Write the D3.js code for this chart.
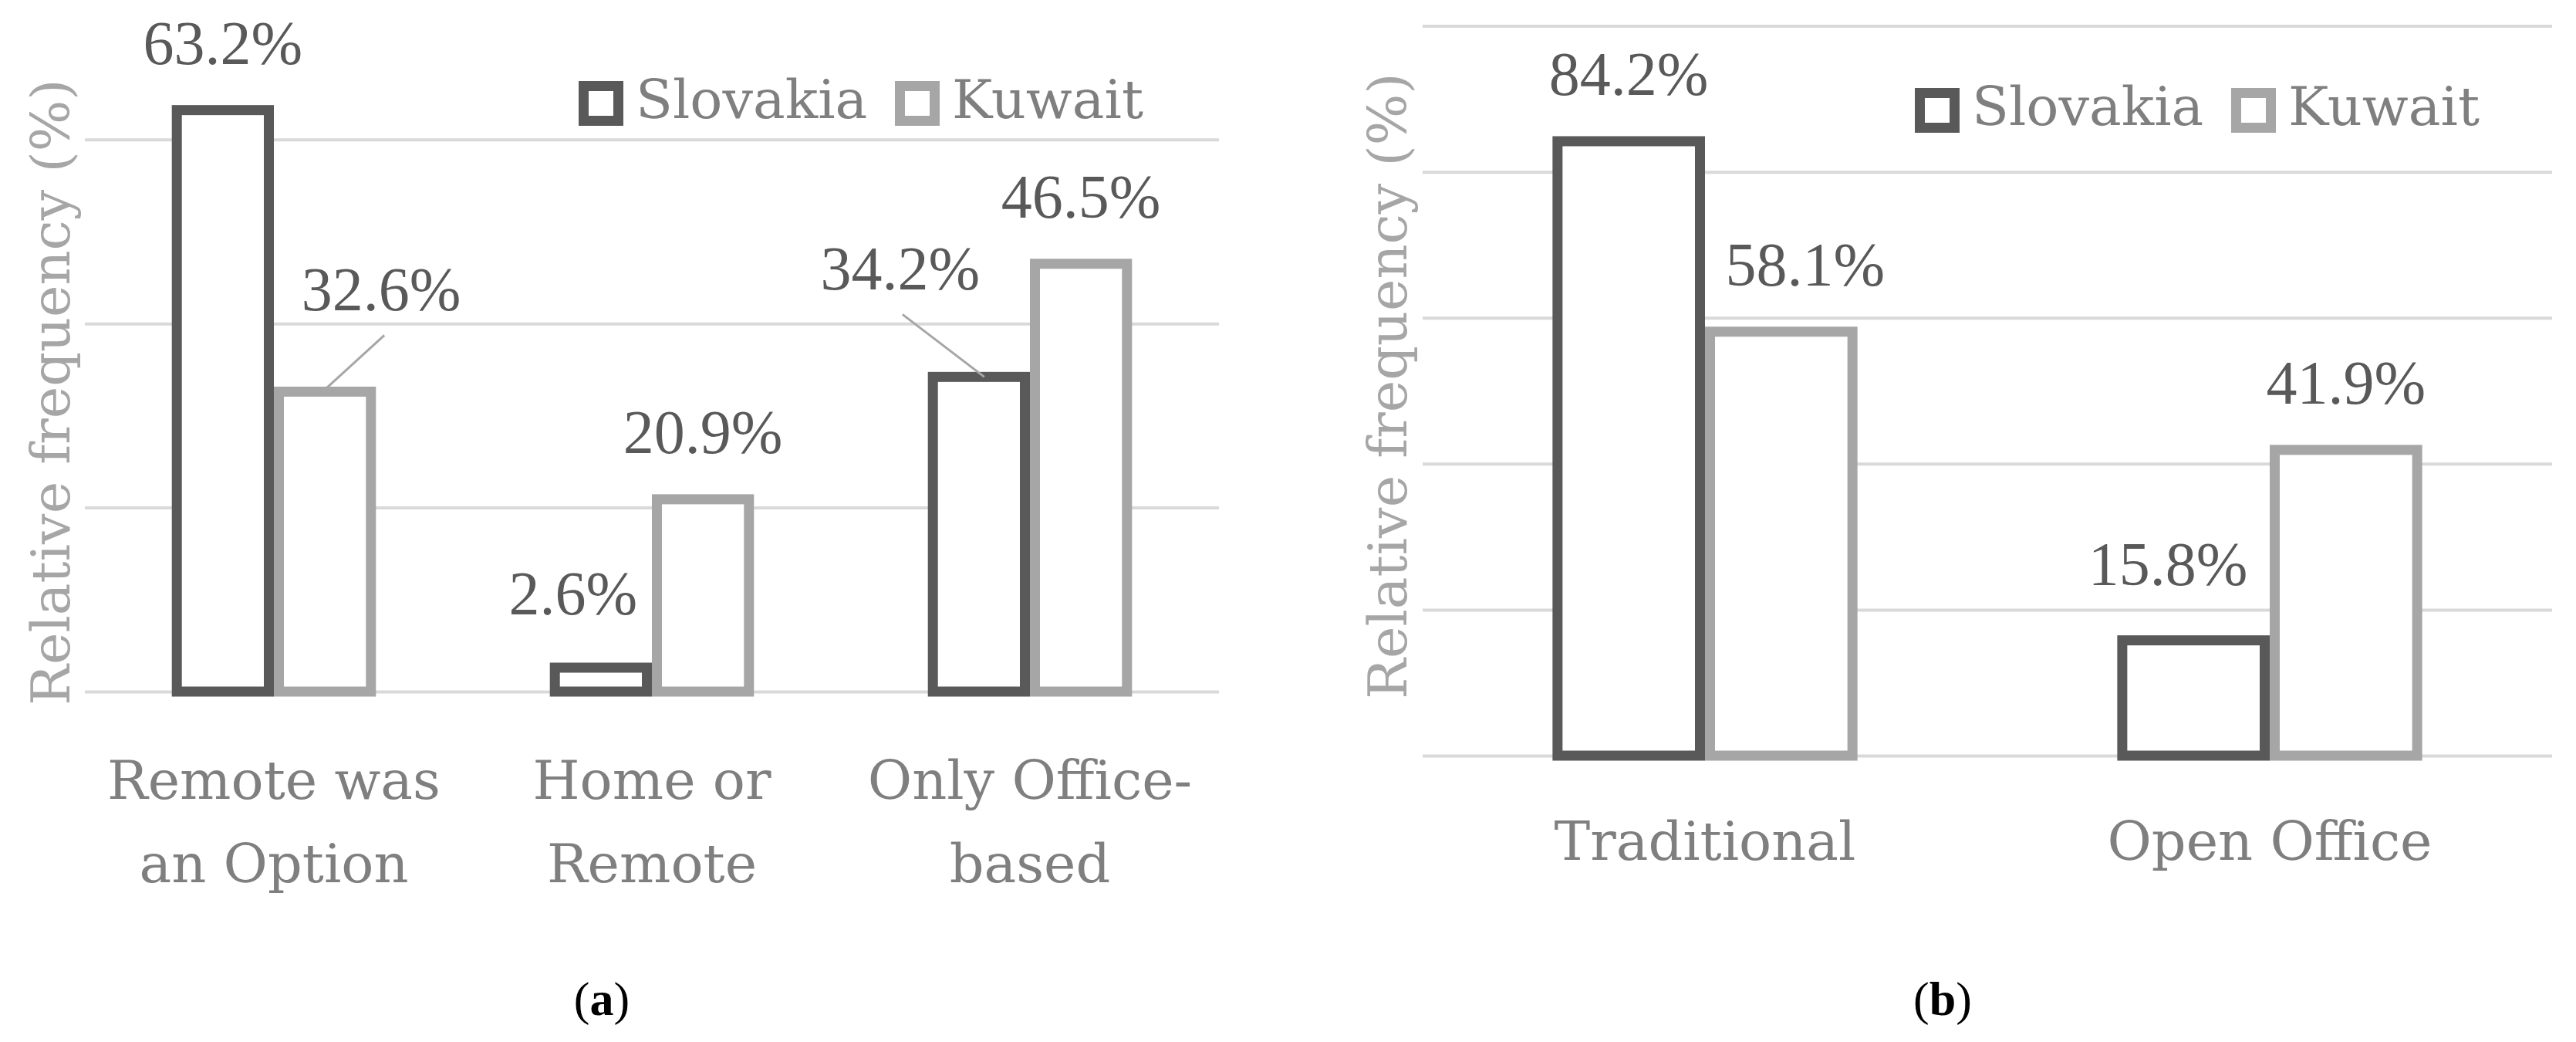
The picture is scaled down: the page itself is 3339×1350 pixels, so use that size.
<!DOCTYPE html>
<html>
<head>
<meta charset="utf-8">
<script src="https://cdn.jsdelivr.net/npm/d3@7"></script>
<style>
  html, body { margin: 0; padding: 0; background: #fff; }
  svg { display: block; }
</style>
</head>
<body>
<svg id="chart" width="3339" height="1350"></svg>
<script>
// ---------- data ----------
const seriesNames = ["Slovakia", "Kuwait"];
const categoriesA = [["Remote was", "an Option"], ["Home or", "Remote"], ["Only Office-", "based"]];
const slovakiaA = [63.2, 2.6, 34.2];
const kuwaitA = [32.6, 20.9, 46.5];
const gridTicksA = [0, 20, 40, 60];

const categoriesB = [["Traditional"], ["Open Office"]];
const slovakiaB = [84.2, 15.8];
const kuwaitB = [58.1, 41.9];
const gridTicksB = [0, 20, 40, 60, 80, 100];

const yTitle = "Relative frequency (%)";
const panelCaptions = ["a", "b"];

// ---------- styling / layout ----------
const seriesColors = ["#595959", "#a6a6a6"];
const strokeW = 13;
const gridColor = "#d9d9d9";
const catFont = "'DejaVu Serif', serif";
const lblFont = "'Liberation Serif', 'Times New Roman', serif";

const svg = d3.select("#chart");

function drawPanel(cfg) {
  const g = svg.append("g");
  const x0 = d3.scaleBand().domain(cfg.cats.map((d, i) => i))
    .range([cfg.left, cfg.right]).paddingInner(0.46).paddingOuter(0.23);
  const x1 = d3.scaleBand().domain(seriesNames).range([0, x0.bandwidth()]);
  const y = d3.scaleLinear().domain([0, cfg.yMax]).range([cfg.zeroY, cfg.zeroY - cfg.yMax * cfg.pxPerUnit]);

  // gridlines via axis
  const grid = g.append("g").attr("transform", `translate(${cfg.left},0)`)
    .call(d3.axisLeft(y).tickValues(cfg.ticks).tickSize(-(cfg.right - cfg.left)).tickFormat(""));
  grid.select(".domain").remove();
  grid.selectAll(".tick line").attr("stroke", gridColor).attr("stroke-width", 4);

  // bars
  const rows = cfg.cats.map((c, i) => ({ i, vals: [cfg.s1[i], cfg.s2[i]] }));
  const grp = g.selectAll("g.grp").data(rows).join("g")
    .attr("transform", d => `translate(${x0(d.i)},0)`);
  grp.selectAll("rect").data(d => d.vals.map((v, k) => ({ v, k, s: seriesNames[k] }))).join("rect")
    .attr("x", d => x1(d.s) + strokeW / 2)
    .attr("width", x1.bandwidth() - strokeW)
    .attr("y", d => y(d.v))
    .attr("height", d => y(0) - y(d.v))
    .attr("fill", "#fff")
    .attr("stroke", d => seriesColors[d.k])
    .attr("stroke-width", strokeW);

  // data labels
  rows.forEach(r => {
    r.vals.forEach((v, k) => {
      const cx = x0(r.i) + x1(seriesNames[k]) + x1.bandwidth() / 2;
      const nudge = (cfg.nudges.find(n => n.i === r.i && n.k === k)) || { dx: 0, dy: 0 };
      const lx = cx + nudge.dx;
      const ly = y(v) - 60 + nudge.dy;
      if (nudge.leader) {
        g.append("line")
          .attr("x1", lx + nudge.leader[0]).attr("y1", ly + 32)
          .attr("x2", cx + nudge.leader[1]).attr("y2", y(v))
          .attr("stroke", "#a6a6a6").attr("stroke-width", 3);
      }
      g.append("text")
        .attr("x", lx).attr("y", ly)
        .attr("text-anchor", "middle")
        .attr("font-family", lblFont).attr("font-size", 80)
        .attr("fill", "#595959")
        .text(v.toFixed(1) + "%");
    });
  });

  // category labels
  cfg.cats.forEach((lines, i) => {
    const t = g.append("text")
      .attr("text-anchor", "middle")
      .attr("font-family", catFont).attr("font-size", 70)
      .attr("fill", "#7f7f7f");
    lines.forEach((ln, j) => {
      t.append("tspan").attr("x", x0(i) + x0.bandwidth() / 2)
        .attr("y", cfg.zeroY + cfg.catOffset + j * 108).text(ln);
    });
  });

  // y title
  g.append("text")
    .attr("transform", `translate(${cfg.titleX},${cfg.titleY}) rotate(-90)`)
    .attr("text-anchor", "middle")
    .attr("font-family", catFont).attr("font-size", 70)
    .attr("fill", "#a6a6a6")
    .text(yTitle);

  // legend
  seriesNames.forEach((s, k) => {
    const lx = cfg.legend[k];
    g.append("rect")
      .attr("x", lx + strokeW / 2).attr("y", cfg.legendY - 48 + strokeW / 2)
      .attr("width", 58 - strokeW).attr("height", 58 - strokeW)
      .attr("fill", "#fff").attr("stroke", seriesColors[k]).attr("stroke-width", strokeW);
    g.append("text")
      .attr("x", lx + 74).attr("y", cfg.legendY)
      .attr("font-family", catFont).attr("font-size", 70)
      .attr("fill", "#7f7f7f")
      .text(s);
  });

  // caption
  const cap = g.append("text")
    .attr("x", cfg.capX).attr("y", 1315)
    .attr("text-anchor", "middle")
    .attr("font-family", lblFont).attr("font-size", 62)
    .attr("fill", "#000");
  cap.append("tspan").text("(");
  cap.append("tspan").attr("font-weight", "bold").text(cfg.caption);
  cap.append("tspan").text(")");
}

drawPanel({
  cats: categoriesA, s1: slovakiaA, s2: kuwaitA, ticks: gridTicksA,
  left: 110, right: 1580, zeroY: 896, pxPerUnit: 11.92, yMax: 70,
  catOffset: 139, titleX: 90, titleY: 508,
  legend: [750, 1160], legendY: 153, capX: 780, caption: panelCaptions[0],
  nudges: [
    { i: 0, k: 1, dx: 73, dy: -45, leader: [4, -3] },
    { i: 1, k: 0, dx: -36, dy: -9 },
    { i: 2, k: 0, dx: -102, dy: -53, leader: [3, 7] }
  ]
});

drawPanel({
  cats: categoriesB, s1: slovakiaB, s2: kuwaitB, ticks: gridTicksB,
  left: 1844, right: 3308, zeroY: 979, pxPerUnit: 9.454, yMax: 100,
  catOffset: 135, titleX: 1823, titleY: 500,
  legend: [2482, 2892], legendY: 162, capX: 2518, caption: panelCaptions[1],
  nudges: [
    { i: 0, k: 1, dx: 31, dy: 0 },
    { i: 1, k: 0, dx: -33, dy: -12 }
  ]
});
</script>
</body>
</html>
